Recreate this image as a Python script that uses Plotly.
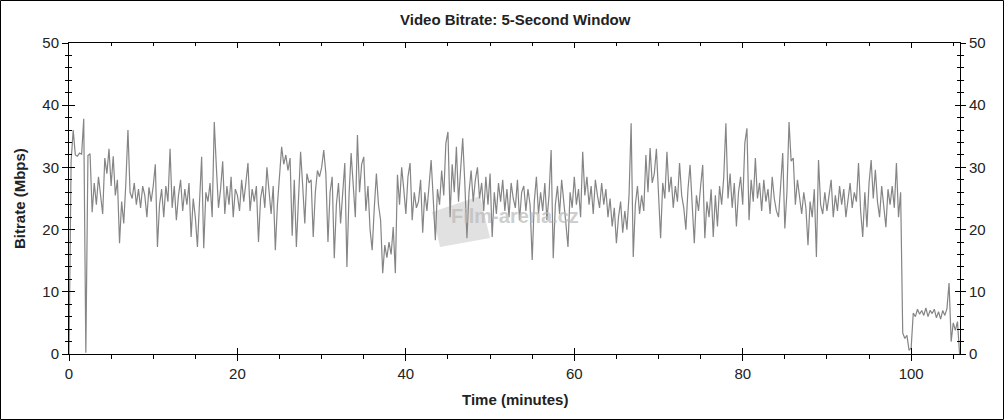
import plotly.graph_objects as go

# Bitrate samples, 4 per minute (every 0.25 min)
rows = [
    [0.0, 31.0, 36.0, 32.0],    # 0
    [31.8, 32.3, 32.1, 37.8],   # 1
    [0.2, 31.9, 32.2, 22.8],    # 2
    [27.5, 24.0, 28.5, 25.0],   # 3
    [22.5, 31.5, 29.0, 33.0],   # 4
    [27.0, 31.8, 25.5, 28.0],   # 5
    [17.8, 24.5, 21.0, 27.5],   # 6
    [36.0, 26.0, 25.0, 27.5],   # 7
    [24.0, 26.5, 23.5, 27.0],   # 8
    [25.5, 22.0, 26.8, 24.5],   # 9
    [27.0, 30.5, 17.2, 24.0],   # 10
    [26.5, 22.0, 27.0, 24.5],   # 11
    [33.0, 23.5, 27.0, 21.5],   # 12
    [25.5, 28.0, 23.0, 26.5],   # 13
    [24.0, 27.5, 18.8, 25.0],   # 14
    [22.0, 17.2, 25.0, 31.7],   # 15
    [17.0, 26.0, 24.5, 27.5],   # 16
    [22.0, 37.3, 30.0, 23.5],   # 17
    [26.5, 31.0, 22.5, 27.0],   # 18
    [24.0, 28.5, 22.0, 26.5],   # 19
    [25.5, 23.0, 28.0, 24.5],   # 20
    [27.5, 30.7, 23.0, 26.5],   # 21
    [24.5, 27.0, 18.0, 25.0],   # 22
    [27.0, 23.5, 30.0, 25.5],   # 23
    [22.5, 27.0, 16.7, 24.0],   # 24
    [29.0, 33.3, 30.5, 32.0],   # 25
    [29.5, 31.5, 19.0, 28.0],   # 26
    [17.2, 24.0, 32.5, 27.0],   # 27
    [21.0, 29.0, 27.5, 28.0],   # 28
    [18.8, 26.0, 29.5, 28.5],   # 29
    [30.0, 32.8, 29.0, 18.0],   # 30
    [26.0, 28.5, 15.4, 24.0],   # 31
    [27.5, 21.0, 26.0, 30.7],   # 32
    [14.0, 25.5, 32.3, 27.0],   # 33
    [22.0, 35.2, 26.0, 30.5],   # 34
    [31.7, 23.0, 27.0, 20.0],   # 35
    [16.7, 23.5, 29.0, 24.0],   # 36
    [21.5, 13.0, 17.5, 15.5],   # 37
    [18.0, 16.0, 20.4, 13.0],   # 38
    [28.8, 24.0, 30.0, 26.5],   # 39
    [22.5, 28.5, 30.7, 21.5],   # 40
    [26.0, 23.5, 24.5, 28.0],   # 41
    [19.5, 26.0, 23.0, 27.0],   # 42
    [31.2, 25.0, 18.3, 26.5],   # 43
    [24.0, 29.5, 25.5, 33.9],   # 44
    [35.7, 22.0, 30.5, 26.0],   # 45
    [33.3, 24.5, 29.0, 34.7],   # 46
    [27.5, 18.6, 26.0, 29.5],   # 47
    [24.5, 28.0, 30.0, 25.0],   # 48
    [27.5, 23.0, 28.5, 24.0],   # 49
    [29.0, 18.8, 26.0, 22.5],   # 50
    [27.5, 24.5, 28.0, 23.0],   # 51
    [26.5, 22.0, 27.5, 25.0],   # 52
    [23.5, 28.0, 21.5, 26.0],   # 53
    [27.0, 23.0, 26.5, 24.0],   # 54
    [15.1, 24.5, 28.5, 22.5],   # 55
    [26.0, 23.0, 27.5, 21.5],   # 56
    [25.5, 32.8, 15.4, 24.0],   # 57
    [27.0, 22.5, 28.0, 25.0],   # 58
    [21.0, 17.2, 26.0, 23.5],   # 59
    [28.5, 24.0, 26.5, 22.0],   # 60
    [32.5, 25.5, 28.5, 24.0],   # 61
    [27.0, 22.5, 28.0, 25.5],   # 62
    [23.5, 27.5, 24.0, 26.5],   # 63
    [22.0, 25.0, 20.5, 23.5],   # 64
    [17.8, 22.0, 24.5, 19.5],   # 65
    [23.0, 20.0, 25.5, 37.1],   # 66
    [15.6, 24.0, 27.0, 22.5],   # 67
    [25.5, 23.0, 32.0, 26.0],   # 68
    [33.1, 27.5, 29.0, 33.0],   # 69
    [26.0, 18.6, 27.5, 25.0],   # 70
    [32.5, 26.0, 28.5, 23.5],   # 71
    [27.0, 24.5, 30.7, 25.5],   # 72
    [23.5, 20.0, 26.5, 30.4],   # 73
    [24.0, 17.8, 25.5, 23.0],   # 74
    [27.0, 30.4, 18.6, 24.5],   # 75
    [22.0, 26.5, 18.8, 25.5],   # 76
    [20.5, 27.0, 24.0, 28.5],   # 77
    [37.1, 25.0, 29.0, 23.5],   # 78
    [27.5, 20.5, 26.0, 28.5],   # 79
    [24.0, 33.9, 36.3, 21.5],   # 80
    [28.0, 24.5, 31.5, 25.0],   # 81
    [27.5, 23.0, 28.0, 24.5],   # 82
    [26.5, 22.5, 28.5, 25.0],   # 83
    [23.0, 22.0, 27.0, 32.3],   # 84
    [20.2, 26.0, 37.3, 31.0],   # 85
    [31.5, 24.0, 28.0, 25.5],   # 86
    [22.5, 26.0, 23.5, 17.5],   # 87
    [24.5, 22.0, 26.5, 15.6],   # 88
    [31.2, 24.0, 22.5, 26.0],   # 89
    [23.0, 25.5, 28.0, 22.0],   # 90
    [25.5, 23.0, 27.0, 24.0],   # 91
    [26.5, 22.0, 25.0, 27.5],   # 92
    [23.5, 26.0, 24.5, 30.7],   # 93
    [23.0, 18.8, 26.0, 20.4],   # 94
    [27.5, 31.2, 25.0, 29.6],   # 95
    [24.5, 22.0, 27.0, 23.5],   # 96
    [20.4, 26.5, 24.0, 27.0],   # 97
    [23.5, 30.7, 22.0, 26.0],   # 98
    [3.4, 2.5, 3.0, 0.6],       # 99
    [1.0, 6.6, 6.0, 7.2],       # 100
    [6.4, 7.0, 6.2, 7.4],       # 101
    [6.0, 7.0, 6.5, 7.2],       # 102
    [5.8, 6.8, 5.6, 7.0],       # 103
    [6.2, 7.3, 11.4, 2.0],      # 104
    [5.0, 3.8, 5.2, 0.0],       # 105
]
step_minutes = 0.25
bitrate = [v for r in rows for v in r]
time_min = [i * step_minutes for i in range(len(bitrate))]

x_ticks = [0, 20, 40, 60, 80, 100]
y_ticks = [0, 10, 20, 30, 40, 50]

FONT = "Liberation Sans, Arial, sans-serif"
fig = go.Figure()
fig.add_trace(go.Scatter(x=time_min, y=bitrate, mode="lines",
                         line=dict(color="#858585", width=1.2),
                         hoverinfo="skip", showlegend=False))
# empty traces so the overlay axes (crossing ticks) are drawn
fig.add_trace(go.Scatter(x=[], y=[], xaxis="x2", yaxis="y2", showlegend=False))
fig.add_trace(go.Scatter(x=[], y=[], xaxis="x3", yaxis="y3", showlegend=False))
fig.add_trace(go.Scatter(x=[], y=[], xaxis="x", yaxis="y4", showlegend=False))

XR = [0, 105.8]
YR = [0, 50]
tickfont = dict(family=FONT, size=15, color="#222")
common_x = dict(range=XR, tickvals=x_ticks, showgrid=False, zeroline=False,
                showline=True, linecolor="black", linewidth=1, tickcolor="black")
common_y = dict(range=YR, tickvals=y_ticks, showgrid=False, zeroline=False,
                showline=True, linecolor="black", linewidth=1, tickcolor="black")

fig.update_layout(
    width=1004, height=420,
    margin=dict(l=69, r=44, t=43, b=66, autoexpand=False),
    paper_bgcolor="white", plot_bgcolor="white",
    xaxis=dict(**common_x, ticks="outside", ticklen=6, tickfont=tickfont,
               minor=dict(dtick=5, ticks="outside", ticklen=4, tickcolor="black")),
    xaxis2=dict(**common_x, overlaying="x", side="top", anchor="y",
                ticks="inside", ticklen=5, showticklabels=False,
                minor=dict(dtick=5, ticks="inside", ticklen=3, tickcolor="black")),
    xaxis3=dict(**common_x, overlaying="x", side="bottom", anchor="y",
                ticks="inside", ticklen=6, showticklabels=False),
    yaxis=dict(**common_y, ticks="outside", ticklen=6, tickfont=tickfont,
               minor=dict(dtick=2, ticks="outside", ticklen=3, tickcolor="black")),
    yaxis2=dict(**common_y, overlaying="y", side="right", anchor="x",
                ticks="outside", ticklen=5, tickfont=tickfont,
                minor=dict(dtick=2, ticks="outside", ticklen=3, tickcolor="black")),
    yaxis3=dict(**common_y, overlaying="y", side="left", anchor="x",
                ticks="inside", ticklen=6, showticklabels=False,
                minor=dict(dtick=2, ticks="inside", ticklen=3, tickcolor="black")),
    yaxis4=dict(**common_y, overlaying="y", side="right", anchor="x",
                ticks="inside", ticklen=5, showticklabels=False,
                minor=dict(dtick=2, ticks="inside", ticklen=3, tickcolor="black")),
)

W, H = 891.0, 311.0
def px(xp):
    return (xp - 69) / W
def py(yp):
    return (354 - yp) / H

def label(text, xp, yp, size=15, angle=0, color="#222"):
    fig.add_annotation(text=text, xref="paper", yref="paper", x=px(xp), y=py(yp),
                       xanchor="center", yanchor="middle", showarrow=False,
                       textangle=angle, font=dict(family=FONT, size=size, color=color))

label("<b>Video Bitrate: 5-Second Window</b>", 515, 19)
label("<b>Time (minutes)</b>", 515, 399)
label("<b>Bitrate (Mbps)</b>", 19, 199, angle=-90)
# watermark
fig.add_shape(type="path", xref="paper", yref="paper", layer="below",
              path=f"M {px(432)} {py(212)} L {px(480)} {py(196)} L {px(490)} {py(238)} L {px(440)} {py(247)} Z",
              fillcolor="rgba(205,205,205,0.6)", line=dict(width=0))
label("<b>Film-arena.cz</b>", 515, 216, size=20, color="rgba(185,185,185,0.7)")
# outer border
fig.add_shape(type="rect", xref="paper", yref="paper",
              x0=px(0.5), x1=px(1003.5), y0=py(419.5), y1=py(0.5),
              line=dict(color="black", width=1), fillcolor="rgba(0,0,0,0)")

fig.write_html("out.html", config={"displayModeBar": False},
               post_script="document.body.style.margin='0';document.body.style.padding='0';document.body.style.overflow='hidden';")
